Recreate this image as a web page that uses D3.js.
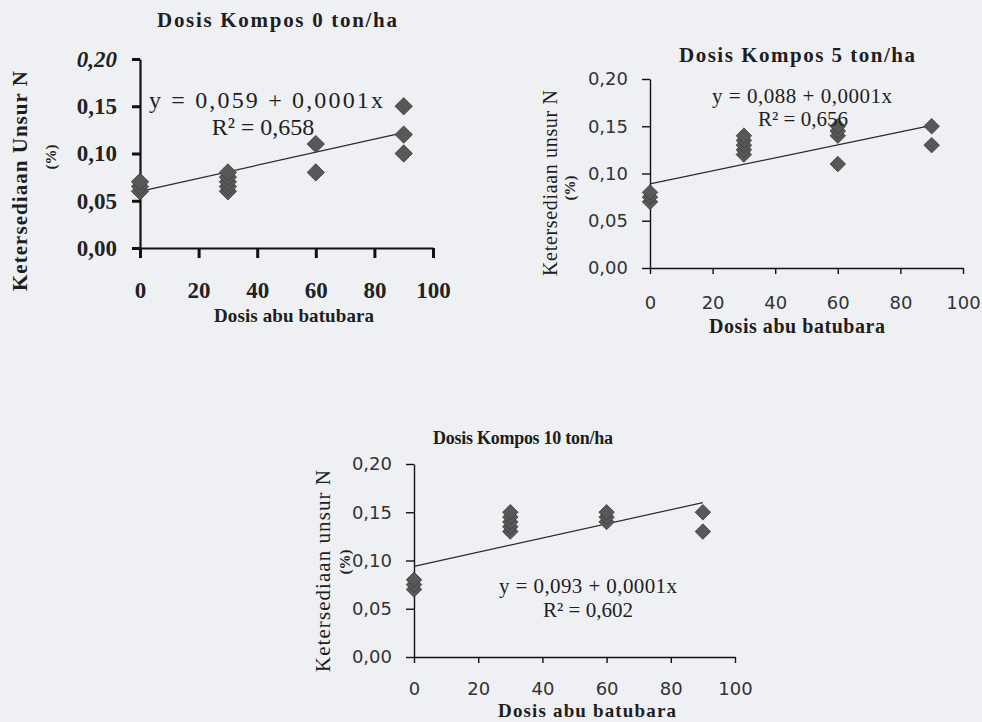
<!DOCTYPE html>
<html lang="id">
<head>
  <meta charset="utf-8">
  <title>Ketersediaan unsur N</title>
  <script src="https://cdn.jsdelivr.net/npm/d3@7"></script>
  <style>
    body { margin: 0; background: #eff0f3; }
    svg { display: block; }
  </style>
</head>
<body>
  <div class="chart"></div>

  <script>
    // tick values shared by the three panels
    var xTicks = [0, 20, 40, 60, 80, 100];
    var yTicks = [0, 0.05, 0.10, 0.15, 0.20];

    // Dosis kompos 0 ton/ha : [dosis abu batubara, N (%)]
    var kompos0 = [[0, 0.060], [0, 0.065], [0, 0.070],
      [30, 0.060], [30, 0.065], [30, 0.070], [30, 0.075], [30, 0.080],
      [60, 0.080], [60, 0.110],
      [90, 0.100], [90, 0.120], [90, 0.150]];
    var trend0 = [[0, 0.060], [90, 0.122]];

    // Dosis kompos 5 ton/ha
    var kompos5 = [[0, 0.070], [0, 0.075], [0, 0.080],
      [30, 0.120], [30, 0.125], [30, 0.130], [30, 0.135], [30, 0.140],
      [60, 0.110], [60, 0.140], [60, 0.145], [60, 0.150],
      [90, 0.130], [90, 0.150]];
    var trend5 = [[0, 0.089], [90, 0.151]];

    // Dosis kompos 10 ton/ha
    var kompos10 = [[0, 0.070], [0, 0.075], [0, 0.080],
      [30, 0.130], [30, 0.135], [30, 0.140], [30, 0.145], [30, 0.150],
      [60, 0.140], [60, 0.145], [60, 0.150],
      [90, 0.130], [90, 0.150]];
    var trend10 = [[0, 0.094], [90, 0.160]];

    var w = 982,
      h = 722;

    var svg = d3.select('.chart')
      .append('svg')
      .attr('width', w)
      .attr('height', h);

    var comma = function(d) { return d3.format('.2f')(d).replace('.', ','); };
    var serif = '"Liberation Serif", "Times New Roman", serif';
    var sans = '"DejaVu Sans", Verdana, sans-serif';

    // text helper, stretched to the width
    var label = function(g, x, y, txt, size, weight, len, rot) {
      var t = g.append('text')
        .attr('transform', 'translate(' + x + ',' + y + ')' + (rot ? ' rotate(-90)' : ''))
        .attr('text-anchor', 'middle').attr('dominant-baseline', 'middle')
        .style('font-family', serif).style('font-weight', weight).style('font-size', size + 'px')
        .attr('fill', '#1e1e22')
        .text(txt);
      if (len) t.attr('textLength', len).attr('lengthAdjust', 'spacing');
      return t;
    };

    var drawPanel = function(p) {
      var x = d3.scaleLinear().domain([0, 100]).range([p.left, p.right]);
      var y = d3.scaleLinear().domain([0, 0.2]).range([p.bottom, p.top]);
      var g = svg.append('g');

      var xAxis = g.append('g')
        .attr('transform', 'translate(0,' + p.bottom + ')')
        .call(d3.axisBottom(x).tickValues(xTicks).tickSize(p.xTick).tickSizeOuter(0).tickPadding(p.xPad));
      var yAxis = g.append('g')
        .attr('transform', 'translate(' + p.left + ',0)')
        .call(d3.axisLeft(y).tickValues(yTicks).tickFormat(comma).tickSize(p.yTick).tickSizeOuter(0).tickPadding(p.yPad));

      [xAxis, yAxis].forEach(function(a) {
        a.select('.domain').attr('stroke', '#111').attr('stroke-width', p.axisW);
        a.selectAll('.tick line').attr('stroke', '#111').attr('stroke-width', p.tickW);
        a.selectAll('text')
          .attr('fill', p.tickColor)
          .style('font-family', p.tickFont)
          .style('font-weight', p.tickWeight)
          .style('font-size', p.tickSize + 'px');
      });
      if (p.italicTop) {
        yAxis.selectAll('.tick text').filter(function(d) { return d === 0.2; }).style('font-style', 'italic');
      }

      // trend line
      g.append('path')
        .datum(p.trend)
        .attr('d', d3.line().x(function(d) { return x(d[0]); }).y(function(d) { return y(d[1]); }))
        .attr('fill', 'none')
        .attr('stroke', '#2a2a2a')
        .attr('stroke-width', 1.2);

      // diamonds
      g.selectAll('.pt')
        .data(p.points)
        .enter()
        .append('path')
        .attr('class', 'pt')
        .attr('d', d3.symbol().type(d3.symbolSquare).size(p.marker))
        .attr('transform', function(d) { return 'translate(' + x(d[0]) + ',' + y(d[1]) + ') rotate(45)'; })
        .attr('fill', '#585858')
        .attr('stroke', '#3c3c3c')
        .attr('stroke-width', 0.8);

      // title and axis titles
      label(g, p.titleX, p.titleY, p.title, p.titleSize, 'bold', p.titleLen);
      label(g, p.xTitleX, p.xTitleY, 'Dosis abu batubara', p.xTitleSize, 'bold', p.xTitleLen);
      label(g, p.yTitleX, p.yTitleY, p.yTitle, p.yTitleSize, p.yTitleWeight, p.yTitleLen, true);
      label(g, p.pctX, p.pctY, '(%)', 15, 'bold', null, true);

      // regression text
      label(g, p.eqX, p.eqY, p.eq, p.eqSize, 'normal', p.eqLen);
      label(g, p.r2X, p.eqY + p.r2Gap, p.r2, p.eqSize, 'normal', null);
    };

    drawPanel({
      left: 140, right: 433, top: 59, bottom: 248,
      points: kompos0, trend: trend0, marker: 150,
      xTick: 10, yTick: 8, xPad: 24, yPad: 15, axisW: 2.2, tickW: 3,
      tickFont: serif, tickWeight: 'bold', tickSize: 23, tickColor: '#222', italicTop: true,
      title: 'Dosis Kompos 0 ton/ha', titleX: 277, titleY: 22, titleSize: 21, titleLen: 240,
      xTitleX: 294, xTitleY: 318, xTitleSize: 19, xTitleLen: 160,
      yTitle: 'Ketersediaan Unsur N', yTitleX: 22, yTitleY: 181, yTitleSize: 21, yTitleWeight: 'bold', yTitleLen: 220,
      pctX: 53, pctY: 157,
      eq: 'y = 0,059 + 0,0001x', r2: 'R² = 0,658', eqX: 266, eqY: 102, r2X: 263, r2Gap: 27, eqSize: 24, eqLen: 234
    });

    drawPanel({
      left: 650, right: 963, top: 79, bottom: 268,
      points: kompos5, trend: trend5, marker: 120,
      xTick: 6, yTick: 8, xPad: 22, yPad: 14, axisW: 1.4, tickW: 1.4,
      tickFont: sans, tickWeight: 'normal', tickSize: 18, tickColor: '#333', italicTop: false,
      title: 'Dosis Kompos 5 ton/ha', titleX: 797, titleY: 57, titleSize: 21, titleLen: 236,
      xTitleX: 797, xTitleY: 328, xTitleSize: 20, xTitleLen: 176,
      yTitle: 'Ketersediaan unsur N', yTitleX: 552, yTitleY: 183, yTitleSize: 20, yTitleWeight: 'normal', yTitleLen: 186,
      pctX: 572, pctY: 188,
      eq: 'y = 0,088 + 0,0001x', r2: 'R² = 0,656', eqX: 802, eqY: 98, r2X: 803, r2Gap: 23, eqSize: 21, eqLen: 180
    });

    drawPanel({
      left: 414, right: 735, top: 464, bottom: 657,
      points: kompos10, trend: trend10, marker: 120,
      xTick: 6, yTick: 8, xPad: 19, yPad: 14, axisW: 1.4, tickW: 1.4,
      tickFont: sans, tickWeight: 'normal', tickSize: 18, tickColor: '#333', italicTop: false,
      title: 'Dosis Kompos 10 ton/ha', titleX: 523, titleY: 440, titleSize: 18, titleLen: 180,
      xTitleX: 587, xTitleY: 713, xTitleSize: 19, xTitleLen: 178,
      yTitle: 'Ketersediaan unsur N', yTitleX: 325, yTitleY: 571, yTitleSize: 21, yTitleWeight: 'normal', yTitleLen: 202,
      pctX: 347, pctY: 562,
      eq: 'y = 0,093 + 0,0001x', r2: 'R² = 0,602', eqX: 588, eqY: 588, r2X: 588, r2Gap: 24, eqSize: 21, eqLen: 178
    });
  </script>
</body>
</html>
